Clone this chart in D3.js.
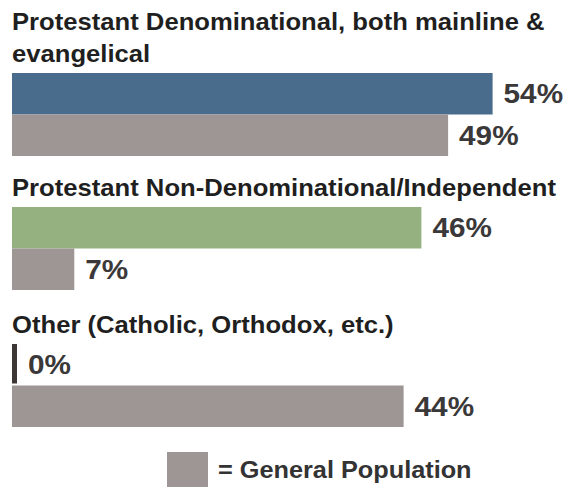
<!DOCTYPE html>
<html>
<head>
<meta charset="utf-8">
<script src="https://cdn.jsdelivr.net/npm/d3@7"></script>
<style>
  html, body { margin: 0; padding: 0; background: #ffffff; }
  svg { display: block; }
  text { font-family: "Liberation Sans", Arial, Helvetica, sans-serif; font-weight: bold; }
</style>
</head>
<body>
<svg id="chart" width="574" height="487"></svg>
<script>
// Group headings (line-broken as printed)
const categoryTitles = [
  ["Protestant Denominational, both mainline &", "evangelical"],
  ["Protestant Non-Denominational/Independent"],
  ["Other (Catholic, Orthodox, etc.)"]
];
// Share of respondents in each group vs. the general population (%)
const surveyValues  = [54, 46, 0];
const generalValues = [49, 7, 44];
const categoryColors = ["#4a6c8c", "#94b17f", "#3c3636"];
const generalColor = "#9e9695";
const legendLabel = "= General Population";

// Layout
const titleBaselines = [30, 196, 333];
const titleSize = 23, valueSize = 27, legendSize = 23;
const SX = 1.115;            // wide typeface
const titleLineH = 32, titleToBars = 11;
const barBlock = 83, minBar = 5, labelGap = 11;

const svg = d3.select("#chart");

const x = d3.scaleLinear().domain([0, 100]).range([12, 902]);
const yInner = d3.scaleBand().domain(["survey", "general"]).range([0, barBlock]).padding(0);

function placeText(sel, px, py, sx = SX) {
  return sel.attr("transform", `translate(${px},${py}) scale(${sx},1)`);
}

let lastBottom = 0;
categoryTitles.forEach((lines, i) => {
  const g = svg.append("g");
  const base = titleBaselines[i];
  lines.forEach((line, j) => {
    placeText(g.append("text"), 12, base + j * titleLineH)
      .attr("font-size", titleSize)
      .attr("fill", "#1f1f1f")
      .text(line);
  });
  const barsTop = base + (lines.length - 1) * titleLineH + titleToBars;

  const rows = [
    { key: "survey", value: surveyValues[i], color: categoryColors[i] },
    { key: "general", value: generalValues[i], color: generalColor }
  ];
  const bars = svg.append("g").attr("transform", `translate(0,${barsTop})`);
  rows.forEach(r => {
    const w = Math.max(x(r.value) - x(0), r.value === 0 ? minBar : 0);
    const top = yInner(r.key);
    const bh = yInner.bandwidth();
    const barH = r.value === 0 ? bh - 2 : bh;
    bars.append("rect")
      .attr("x", x(0))
      .attr("y", top)
      .attr("width", w)
      .attr("height", barH)
      .attr("fill", r.color);
    placeText(bars.append("text"), x(0) + w + labelGap, top + bh / 2 + valueSize * 0.36, 1.1)
      .attr("font-size", valueSize)
      .attr("fill", "#3a3838")
      .text(r.value + "%");
  });
  lastBottom = barsTop + barBlock;
});

// Legend
const legend = svg.append("g").attr("transform", `translate(167,${lastBottom + 25})`);
legend.append("rect").attr("width", 41).attr("height", 41).attr("fill", generalColor);
placeText(legend.append("text"), 51, 26, 1.1)
  .attr("font-size", legendSize)
  .attr("fill", "#333333")
  .text(legendLabel);
</script>
</body>
</html>
